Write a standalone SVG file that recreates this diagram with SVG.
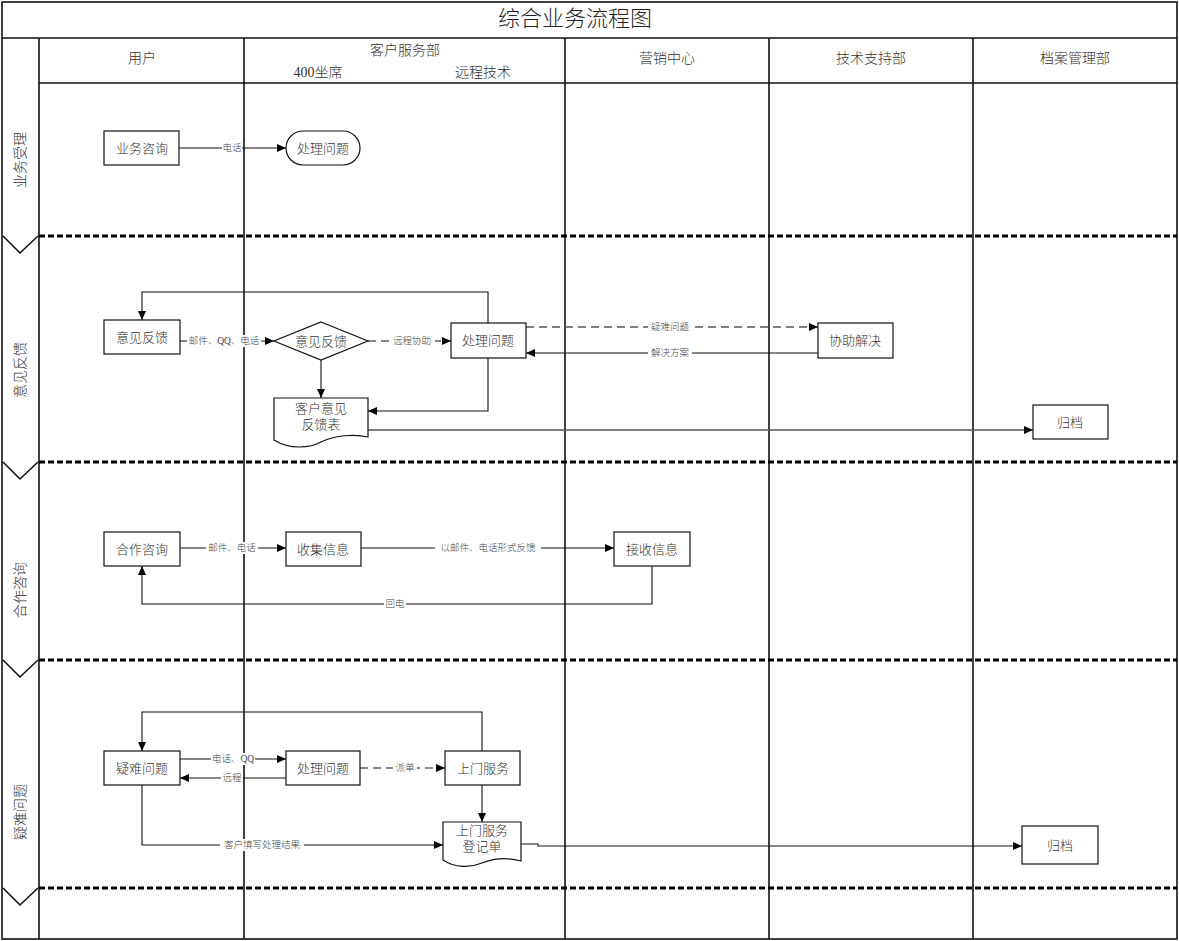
<svg xmlns="http://www.w3.org/2000/svg" width="1179" height="941" viewBox="0 0 1179 941">
<style>
text{font-family:"Liberation Serif","Noto Sans CJK SC",serif;fill:#333;font-weight:300;}
.title{font-size:22px;text-anchor:middle;fill:#222;}
.hdr{font-size:14px;text-anchor:middle;}
.lane{font-size:14px;text-anchor:middle;}
.nt{font-size:13px;text-anchor:middle;dominant-baseline:central;}
.lb{font-size:9.5px;text-anchor:middle;dominant-baseline:central;fill:#444;}
.grid{stroke:#111;stroke-width:1.6;fill:none;}
.sep{stroke:#000;stroke-width:3;stroke-dasharray:6,3;fill:none;}
.box{fill:#fff;stroke:#111;stroke-width:1.2;}
.c{fill:none;stroke:#111;stroke-width:1.1;}
.cg{fill:none;stroke:#555;stroke-width:1.6;}
.d{fill:none;stroke:#111;stroke-width:1.2;stroke-dasharray:8,5;}
.dg{fill:none;stroke:#555;stroke-width:1.6;stroke-dasharray:8,5;}
.bg{fill:#fff;}
</style>
<defs>
<marker id="ar" markerWidth="10" markerHeight="10" refX="9" refY="5" orient="auto" markerUnits="userSpaceOnUse">
<path d="M0,1 L9,5 L0,9 Z" fill="#000"/>
</marker>
</defs>
<rect x="0" y="0" width="1179" height="941" fill="#fff"/>
<g id="frame">
<rect x="2" y="2" width="1175" height="937" class="grid"/>
<line x1="2" y1="38" x2="1177" y2="38" class="grid"/>
<line x1="39" y1="83" x2="1177" y2="83" class="grid"/>
<line x1="39" y1="38" x2="39" y2="939" class="grid"/>
<line x1="244" y1="38" x2="244" y2="939" class="grid"/>
<line x1="565" y1="38" x2="565" y2="939" class="grid"/>
<line x1="769" y1="38" x2="769" y2="939" class="grid"/>
<line x1="973" y1="38" x2="973" y2="939" class="grid"/>
<line x1="39" y1="236" x2="1177" y2="236" class="sep"/>
<line x1="39" y1="462" x2="1177" y2="462" class="sep"/>
<line x1="39" y1="660" x2="1177" y2="660" class="sep"/>
<line x1="39" y1="888" x2="1177" y2="888" class="sep"/>
<path d="M3,236 L20,253 L38,236" class="grid"/>
<path d="M3,462 L20,479 L38,462" class="grid"/>
<path d="M3,660 L20,677 L38,660" class="grid"/>
<path d="M3,888 L20,905 L38,888" class="grid"/>
<text x="575" y="26" class="title">综合业务流程图</text>
<text x="142" y="63" class="hdr">用户</text>
<text x="405" y="55" class="hdr">客户服务部</text>
<text x="318" y="77" class="hdr">400坐席</text>
<text x="483" y="77" class="hdr">远程技术</text>
<text x="667" y="63" class="hdr">营销中心</text>
<text x="871" y="63" class="hdr">技术支持部</text>
<text x="1075" y="63" class="hdr">档案管理部</text>
<text transform="translate(25,160) rotate(-90)" class="lane">业务受理</text>
<text transform="translate(25,370) rotate(-90)" class="lane">意见反馈</text>
<text transform="translate(25,590) rotate(-90)" class="lane">合作咨询</text>
<text transform="translate(25,812) rotate(-90)" class="lane">疑难问题</text>
</g>
<g id="connectors">
<line x1="179" y1="148" x2="286" y2="148" class="c" marker-end="url(#ar)"/>
<rect x="222" y="142" width="20" height="12" class="bg"/><text x="232" y="148" class="lb">电话</text>
<line x1="180" y1="341" x2="274" y2="341" class="c" marker-end="url(#ar)"/>
<rect x="187" y="335" width="74" height="12" class="bg"/><text x="224" y="341" class="lb">邮件、QQ、电话</text>
<line x1="368" y1="341" x2="451" y2="341" class="d" marker-end="url(#ar)"/>
<rect x="389" y="335" width="46" height="12" class="bg"/><text x="412" y="341" class="lb">远程协助</text>
<line x1="526" y1="327" x2="818" y2="327" class="dg" marker-end="url(#ar)"/>
<rect x="648" y="321" width="44" height="12" class="bg"/><text x="670" y="327" class="lb">疑难问题</text>
<line x1="818" y1="353" x2="526" y2="353" class="c" marker-end="url(#ar)"/>
<rect x="648" y="347" width="44" height="12" class="bg"/><text x="670" y="353" class="lb">解决方案</text>
<path d="M488,323 V292 H142 V320" class="c" marker-end="url(#ar)"/>
<line x1="321" y1="360" x2="321" y2="398" class="c" marker-end="url(#ar)"/>
<path d="M488,358 V411 H368" class="c" marker-end="url(#ar)"/>
<line x1="368" y1="430" x2="1033" y2="430" class="cg" marker-end="url(#ar)"/>
<line x1="180" y1="548" x2="286" y2="548" class="c" marker-end="url(#ar)"/>
<rect x="206" y="542" width="52" height="12" class="bg"/><text x="232" y="548" class="lb">邮件、电话</text>
<line x1="361" y1="548" x2="614" y2="548" class="c" marker-end="url(#ar)"/>
<rect x="435" y="542" width="106" height="12" class="bg"/><text x="488" y="548" class="lb">以邮件、电话形式反馈</text>
<path d="M652,566 V604 H142 V566" class="c" marker-end="url(#ar)"/>
<rect x="384" y="598" width="22" height="12" class="bg"/><text x="395" y="604" class="lb">回电</text>
<line x1="180" y1="759" x2="286" y2="759" class="c" marker-end="url(#ar)"/>
<rect x="211" y="753" width="44" height="12" class="bg"/><text x="233" y="759" class="lb">电话、QQ</text>
<line x1="286" y1="778" x2="180" y2="778" class="c" marker-end="url(#ar)"/>
<rect x="221" y="772" width="22" height="12" class="bg"/><text x="232" y="778" class="lb">远程</text>
<line x1="360" y1="768" x2="445" y2="768" class="d" marker-end="url(#ar)"/>
<rect x="393" y="762" width="24" height="12" class="bg"/><text x="405" y="768" class="lb">派单</text>
<path d="M482,751 V712 H142 V751" class="c" marker-end="url(#ar)"/>
<line x1="482" y1="785" x2="482" y2="822" class="c" marker-end="url(#ar)"/>
<path d="M142,785 V845 H443" class="c" marker-end="url(#ar)"/>
<rect x="220" y="839" width="84" height="12" class="bg"/><text x="262" y="845" class="lb">客户填写处理结果</text>
<path d="M521,844 H538 V846 H1022" class="c" marker-end="url(#ar)"/>
</g>
<g id="n-yewuzixun"><rect x="104" y="131" width="75" height="34" class="box"/><text x="142" y="148" class="nt">业务咨询</text></g>
<g id="n-chuli1"><rect x="286" y="131" width="74" height="34" rx="17" ry="17" class="box"/><text x="323" y="148" class="nt">处理问题</text></g>
<g id="n-yijian"><rect x="104" y="320" width="76" height="34" class="box"/><text x="142" y="337" class="nt">意见反馈</text></g>
<g id="n-yijian-d"><path d="M321,322 L368,341 L321,360 L274,341 Z" class="box"/><text x="321" y="341" class="nt">意见反馈</text></g>
<g id="n-chuli2"><rect x="451" y="323" width="75" height="35" class="box"/><text x="488" y="340" class="nt">处理问题</text></g>
<g id="n-xiezhu"><rect x="818" y="323" width="75" height="35" class="box"/><text x="855" y="340" class="nt">协助解决</text></g>
<g id="n-biao"><path d="M274,398 H368 V437 C355,434 335,435 321,442 C310,448 290,450 274,440 Z" class="box"/><text x="321" y="408" class="nt">客户意见</text><text x="321" y="424" class="nt">反馈表</text></g>
<g id="n-guidang1"><rect x="1033" y="405" width="75" height="34" class="box"/><text x="1070" y="422" class="nt">归档</text></g>
<g id="n-hezuo"><rect x="104" y="532" width="76" height="34" class="box"/><text x="142" y="549" class="nt">合作咨询</text></g>
<g id="n-shouji"><rect x="286" y="532" width="75" height="34" class="box"/><text x="323" y="549" class="nt">收集信息</text></g>
<g id="n-jieshou"><rect x="614" y="532" width="76" height="34" class="box"/><text x="652" y="549" class="nt">接收信息</text></g>
<g id="n-yinan"><rect x="104" y="751" width="76" height="34" class="box"/><text x="142" y="768" class="nt">疑难问题</text></g>
<g id="n-chuli3"><rect x="286" y="751" width="74" height="34" class="box"/><text x="323" y="768" class="nt">处理问题</text></g>
<g id="n-shangmen"><rect x="445" y="751" width="75" height="34" class="box"/><text x="483" y="768" class="nt">上门服务</text></g>
<g id="n-dengji"><path d="M443,822 H521 V861 C510,858 495,858 482,863 C470,868 455,868 443,860 Z" class="box"/><text x="482" y="830" class="nt">上门服务</text><text x="482" y="846" class="nt">登记单</text></g>
<g id="n-guidang2"><rect x="1022" y="826" width="76" height="38" class="box"/><text x="1060" y="845" class="nt">归档</text></g>
</svg>
